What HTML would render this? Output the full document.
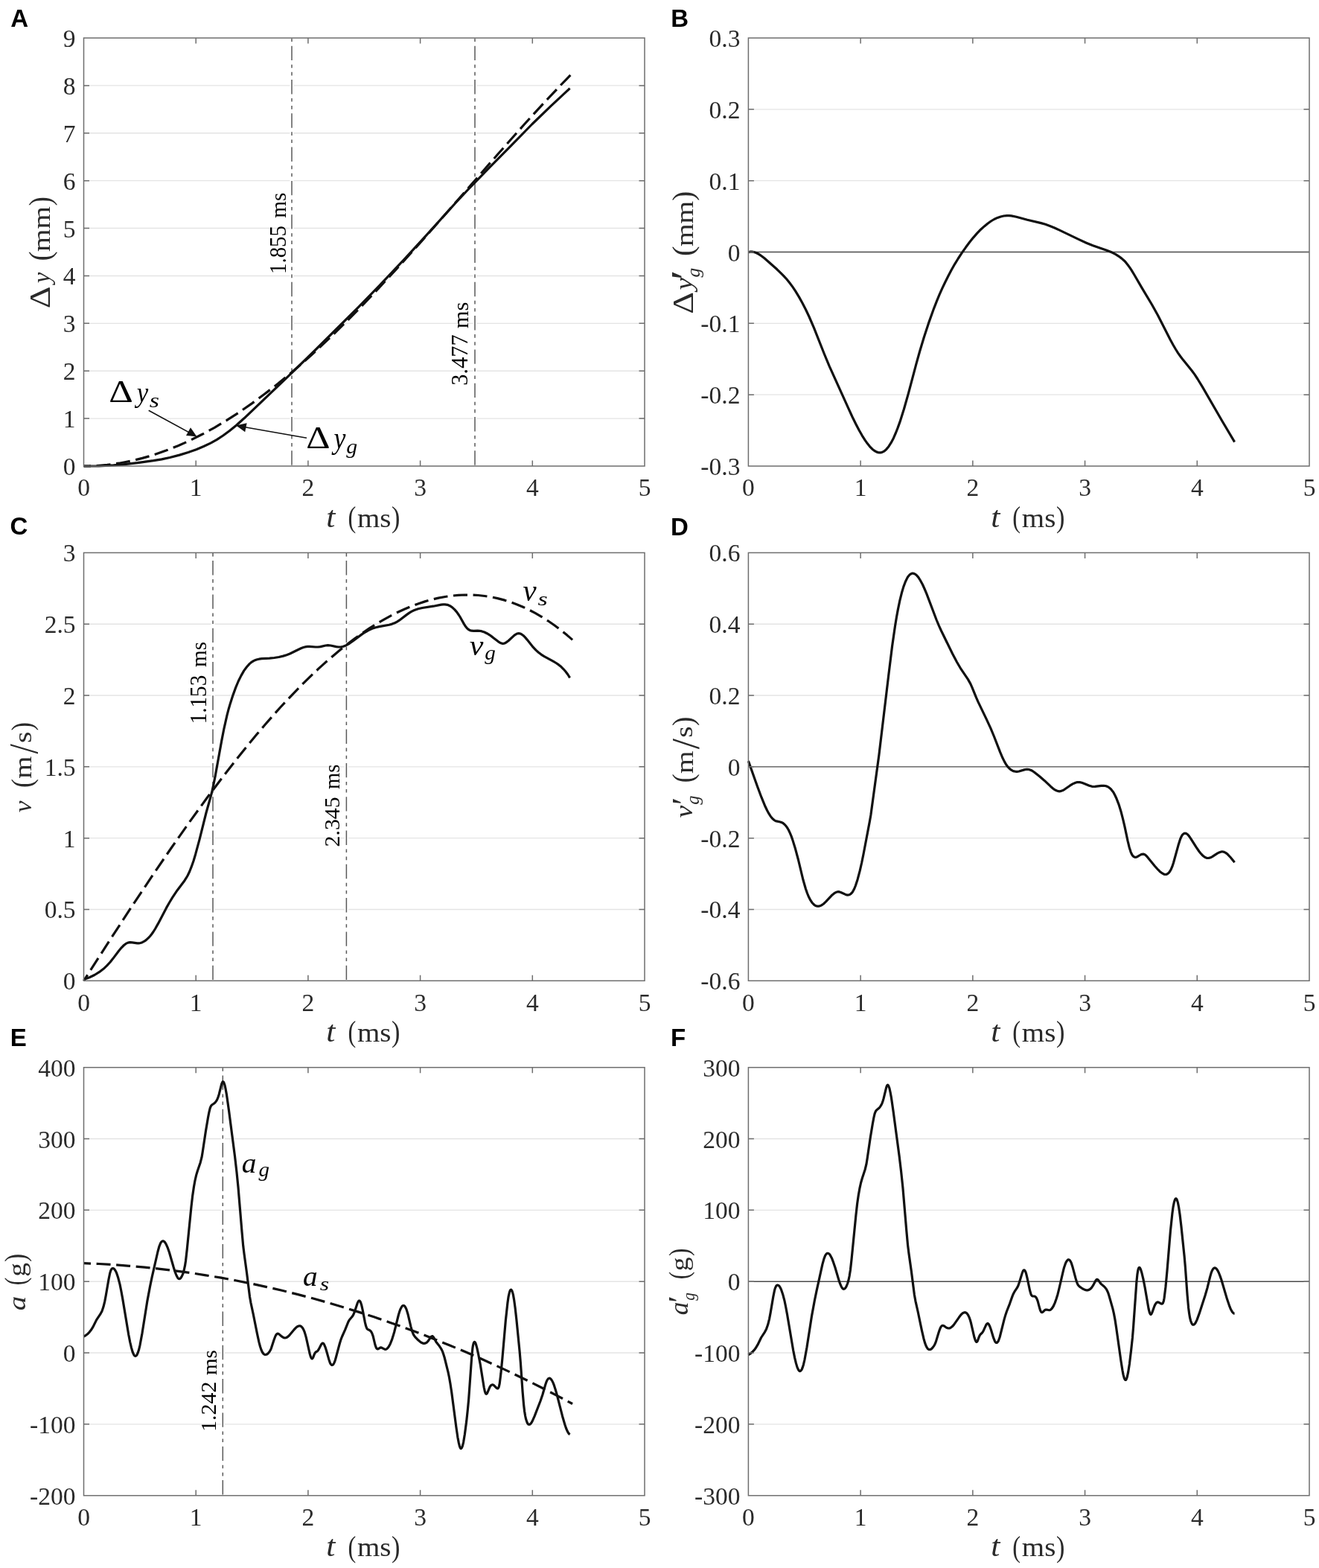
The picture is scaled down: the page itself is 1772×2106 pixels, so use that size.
<!DOCTYPE html>
<html><head><meta charset="utf-8"><title>Figure</title><style>html,body{margin:0;padding:0;background:#fff;}svg{display:block;}</style></head><body>
<svg xmlns="http://www.w3.org/2000/svg" width="1772" height="2106" viewBox="0 0 1772 2106">
<rect width="1772" height="2106" fill="#fff"/>
<line x1="112.50" y1="562.11" x2="866.00" y2="562.11" stroke="#e4e4e4" stroke-width="1.4"/>
<line x1="112.50" y1="498.22" x2="866.00" y2="498.22" stroke="#e4e4e4" stroke-width="1.4"/>
<line x1="112.50" y1="434.33" x2="866.00" y2="434.33" stroke="#e4e4e4" stroke-width="1.4"/>
<line x1="112.50" y1="370.44" x2="866.00" y2="370.44" stroke="#e4e4e4" stroke-width="1.4"/>
<line x1="112.50" y1="306.56" x2="866.00" y2="306.56" stroke="#e4e4e4" stroke-width="1.4"/>
<line x1="112.50" y1="242.67" x2="866.00" y2="242.67" stroke="#e4e4e4" stroke-width="1.4"/>
<line x1="112.50" y1="178.78" x2="866.00" y2="178.78" stroke="#e4e4e4" stroke-width="1.4"/>
<line x1="112.50" y1="114.89" x2="866.00" y2="114.89" stroke="#e4e4e4" stroke-width="1.4"/>
<line x1="1005.40" y1="530.17" x2="1759.00" y2="530.17" stroke="#e4e4e4" stroke-width="1.4"/>
<line x1="1005.40" y1="434.33" x2="1759.00" y2="434.33" stroke="#e4e4e4" stroke-width="1.4"/>
<line x1="1005.40" y1="242.67" x2="1759.00" y2="242.67" stroke="#e4e4e4" stroke-width="1.4"/>
<line x1="1005.40" y1="146.83" x2="1759.00" y2="146.83" stroke="#e4e4e4" stroke-width="1.4"/>
<line x1="1005.40" y1="338.50" x2="1759.00" y2="338.50" stroke="#4a4a4a" stroke-width="1.4"/>
<line x1="112.50" y1="1221.48" x2="866.00" y2="1221.48" stroke="#e4e4e4" stroke-width="1.4"/>
<line x1="112.50" y1="1125.67" x2="866.00" y2="1125.67" stroke="#e4e4e4" stroke-width="1.4"/>
<line x1="112.50" y1="1029.85" x2="866.00" y2="1029.85" stroke="#e4e4e4" stroke-width="1.4"/>
<line x1="112.50" y1="934.03" x2="866.00" y2="934.03" stroke="#e4e4e4" stroke-width="1.4"/>
<line x1="112.50" y1="838.22" x2="866.00" y2="838.22" stroke="#e4e4e4" stroke-width="1.4"/>
<line x1="1005.40" y1="1221.48" x2="1759.00" y2="1221.48" stroke="#e4e4e4" stroke-width="1.4"/>
<line x1="1005.40" y1="1125.67" x2="1759.00" y2="1125.67" stroke="#e4e4e4" stroke-width="1.4"/>
<line x1="1005.40" y1="934.03" x2="1759.00" y2="934.03" stroke="#e4e4e4" stroke-width="1.4"/>
<line x1="1005.40" y1="838.22" x2="1759.00" y2="838.22" stroke="#e4e4e4" stroke-width="1.4"/>
<line x1="1005.40" y1="1029.85" x2="1759.00" y2="1029.85" stroke="#4a4a4a" stroke-width="1.4"/>
<line x1="112.50" y1="1912.87" x2="866.00" y2="1912.87" stroke="#e4e4e4" stroke-width="1.4"/>
<line x1="112.50" y1="1817.03" x2="866.00" y2="1817.03" stroke="#e4e4e4" stroke-width="1.4"/>
<line x1="112.50" y1="1721.20" x2="866.00" y2="1721.20" stroke="#e4e4e4" stroke-width="1.4"/>
<line x1="112.50" y1="1625.37" x2="866.00" y2="1625.37" stroke="#e4e4e4" stroke-width="1.4"/>
<line x1="112.50" y1="1529.53" x2="866.00" y2="1529.53" stroke="#e4e4e4" stroke-width="1.4"/>
<line x1="1005.40" y1="1912.87" x2="1759.00" y2="1912.87" stroke="#e4e4e4" stroke-width="1.4"/>
<line x1="1005.40" y1="1817.03" x2="1759.00" y2="1817.03" stroke="#e4e4e4" stroke-width="1.4"/>
<line x1="1005.40" y1="1625.37" x2="1759.00" y2="1625.37" stroke="#e4e4e4" stroke-width="1.4"/>
<line x1="1005.40" y1="1529.53" x2="1759.00" y2="1529.53" stroke="#e4e4e4" stroke-width="1.4"/>
<line x1="1005.40" y1="1721.20" x2="1759.00" y2="1721.20" stroke="#4a4a4a" stroke-width="1.4"/>
<line x1="392.0" y1="51" x2="392.0" y2="626" stroke="#fff" stroke-width="5"/>
<line x1="392.0" y1="51" x2="392.0" y2="626" stroke="#5a5a5a" stroke-width="1.5" stroke-dasharray="19.4 5.6 4.6 5.5 4.6 5.6" stroke-dashoffset="34.6"/>
<line x1="638.0" y1="51" x2="638.0" y2="626" stroke="#fff" stroke-width="5"/>
<line x1="638.0" y1="51" x2="638.0" y2="626" stroke="#5a5a5a" stroke-width="1.5" stroke-dasharray="19.4 5.6 4.6 5.5 4.6 5.6" stroke-dashoffset="34.6"/>
<text transform="matrix(0 -0.28921 0.30919 0 383.56 368.04)" font-family="'Liberation Serif', 'DejaVu Serif', serif" font-size="100" fill="#000">1.855</text>
<text transform="matrix(0 -0.29193 0.29732 0 383.71 292.71)" font-family="'Liberation Serif', 'DejaVu Serif', serif" font-size="100" fill="#000">ms</text>
<text transform="matrix(0 -0.30414 0.30609 0 628.27 517.66)" font-family="'Liberation Serif', 'DejaVu Serif', serif" font-size="100" fill="#000">3.477</text>
<text transform="matrix(0 -0.30634 0.29109 0 628.72 441.34)" font-family="'Liberation Serif', 'DejaVu Serif', serif" font-size="100" fill="#000">ms</text>
<line x1="286.0" y1="742.4" x2="286.0" y2="1317.3" stroke="#fff" stroke-width="5"/>
<line x1="286.0" y1="742.4" x2="286.0" y2="1317.3" stroke="#5a5a5a" stroke-width="1.5" stroke-dasharray="19.4 5.6 4.6 5.5 4.6 5.6" stroke-dashoffset="34.6"/>
<line x1="465.4" y1="742.4" x2="465.4" y2="1317.3" stroke="#fff" stroke-width="5"/>
<line x1="465.4" y1="742.4" x2="465.4" y2="1317.3" stroke="#5a5a5a" stroke-width="1.5" stroke-dasharray="19.4 5.6 4.6 5.5 4.6 5.6" stroke-dashoffset="34.6"/>
<text transform="matrix(0 -0.29203 0.30609 0 277.27 972.37)" font-family="'Liberation Serif', 'DejaVu Serif', serif" font-size="100" fill="#000">1.153</text>
<text transform="matrix(0 -0.29193 0.29109 0 277.42 896.01)" font-family="'Liberation Serif', 'DejaVu Serif', serif" font-size="100" fill="#000">ms</text>
<text transform="matrix(0 -0.29903 0.29722 0 455.98 1137.51)" font-family="'Liberation Serif', 'DejaVu Serif', serif" font-size="100" fill="#000">2.345</text>
<text transform="matrix(0 -0.28562 0.28485 0 456.42 1060.00)" font-family="'Liberation Serif', 'DejaVu Serif', serif" font-size="100" fill="#000">ms</text>
<line x1="299.3" y1="1433.7" x2="299.3" y2="2008.7" stroke="#fff" stroke-width="5"/>
<line x1="299.3" y1="1433.7" x2="299.3" y2="2008.7" stroke="#5a5a5a" stroke-width="1.5" stroke-dasharray="19.4 5.6 4.6 5.5 4.6 5.6" stroke-dashoffset="34.6"/>
<text transform="matrix(0 -0.29901 0.29870 0 290.08 1922.93)" font-family="'Liberation Serif', 'DejaVu Serif', serif" font-size="100" fill="#000">1.242</text>
<text transform="matrix(0 -0.29013 0.27653 0 290.63 1847.11)" font-family="'Liberation Serif', 'DejaVu Serif', serif" font-size="100" fill="#000">ms</text>
<path d="M112.5,626.0L120.2,625.9 128.2,625.6 136.0,625.0 144.0,624.3 151.7,623.3 159.7,622.2 167.5,620.8 175.5,619.2 183.2,617.4 191.2,615.4 199.2,613.1 207.2,610.7 223.2,605.1 239.2,598.7 255.5,591.5 271.7,583.3 288.2,574.3 304.7,564.4 321.5,553.6 338.4,541.9 355.7,529.1 373.2,515.5 388.2,503.1 403.2,490.3 418.7,476.5 434.4,461.9 450.4,446.6 466.9,430.4 483.9,413.1 501.4,394.9 531.4,362.7 564.4,326.1 595.9,290.5 668.9,207.0 704.6,166.8 722.1,147.6 738.6,129.8 754.1,113.5 769.1,98.1" fill="none" stroke="#111" stroke-width="3.2" stroke-dasharray="19 7.6" stroke-dashoffset="9.5" stroke-linecap="butt"/>
<path d="M112.5,626.0L133.0,625.8 142.0,625.5 152.5,624.9 165.0,623.8 184.7,621.6 206.2,618.7 217.2,616.9 228.2,614.5 241.2,611.1 253.0,607.5 263.7,603.7 273.7,599.5 283.0,595.1 291.5,590.3 299.7,585.0 308.2,578.8 317.5,571.2 328.0,561.8 393.5,499.4 424.2,469.5 481.7,412.4 494.4,399.4 510.2,383.1 544.7,346.6 570.4,318.6 613.2,271.3 629.9,253.5 657.9,224.6 686.1,196.1 715.1,166.5 740.1,142.3 765.6,118.6" fill="none" stroke="#111" stroke-width="3.2" stroke-linejoin="round" stroke-linecap="butt"/>
<path d="M1005.4,338.8L1007.6,338.2 1010.1,338.1 1012.6,338.5 1015.1,339.2 1017.9,340.5 1020.6,342.1 1023.6,344.2 1026.9,346.8 1043.9,361.8 1048.6,366.3 1052.6,370.3 1056.9,375.0 1060.9,380.0 1064.9,385.4 1068.9,391.4 1073.6,399.1 1078.1,407.2 1082.6,416.0 1087.1,425.5 1093.6,440.7 1107.4,475.5 1114.1,491.6 1139.9,548.7 1145.1,560.0 1149.9,569.7 1154.1,577.8 1158.1,584.8 1161.9,590.8 1165.4,595.8 1168.6,599.8 1171.9,603.2 1174.9,605.5 1177.9,607.1 1179.6,607.6 1181.1,607.9 1182.9,607.9 1184.4,607.6 1186.1,606.9 1187.6,606.1 1189.1,605.0 1190.6,603.6 1193.9,599.7 1197.1,594.7 1200.4,588.4 1203.6,581.0 1206.1,574.6 1208.9,566.9 1214.4,549.5 1220.4,528.4 1231.1,488.1 1235.6,472.0 1241.4,452.7 1247.4,434.4 1254.6,414.3 1258.4,404.7 1262.1,395.7 1265.9,387.2 1269.9,378.7 1273.9,370.7 1278.1,362.7 1282.6,354.8 1287.4,347.0 1292.4,339.4 1297.4,332.3 1302.6,325.3 1307.6,319.1 1312.6,313.4 1317.6,308.2 1322.4,303.9 1326.9,300.2 1331.4,297.0 1335.6,294.5 1340.1,292.4 1344.4,291.0 1348.6,290.0 1352.9,289.6 1355.6,289.7 1358.6,289.9 1365.4,291.2 1380.1,295.2 1398.6,299.6 1404.4,301.3 1410.4,303.5 1416.6,306.0 1423.4,309.1 1448.9,321.4 1459.4,326.2 1468.1,329.7 1486.1,335.9 1493.9,339.1 1498.9,341.7 1503.1,344.3 1506.9,347.1 1510.4,350.2 1512.9,352.9 1515.1,355.7 1517.6,359.1 1520.1,362.9 1524.1,369.5 1533.9,386.4 1547.6,409.2 1555.4,423.3 1572.1,456.1 1575.9,463.0 1579.4,469.0 1582.6,474.1 1585.9,478.7 1589.6,483.6 1601.1,497.7 1604.9,502.9 1608.9,509.0 1615.4,519.7 1641.6,565.0 1658.6,593.6" fill="none" stroke="#111" stroke-width="3.2" stroke-linejoin="round" stroke-linecap="butt"/>
<path d="M112.5,1317.3L146.7,1264.0 176.5,1218.4 204.0,1177.2 229.7,1139.5 254.5,1104.2 278.2,1071.5 301.0,1041.3 323.2,1012.9 334.2,999.4 345.2,986.1 355.9,973.5 366.4,961.5 376.9,949.8 387.4,938.5 397.7,927.8 407.9,917.4 417.9,907.6 427.9,898.2 437.9,889.1 447.7,880.7 457.4,872.6 467.2,864.8 476.7,857.6 486.2,850.8 495.9,844.2 505.4,838.2 514.9,832.6 524.4,827.3 533.9,822.5 543.2,818.2 552.4,814.4 561.6,810.9 570.9,807.9 579.9,805.3 589.1,803.1 598.1,801.5 607.1,800.2 615.9,799.4 624.9,799.0 633.6,799.1 642.4,799.5 651.1,800.5 659.9,801.8 668.4,803.6 677.1,805.9 685.6,808.6 694.1,811.7 702.6,815.2 711.1,819.3 719.4,823.6 727.9,828.5 736.1,833.8 744.4,839.5 752.6,845.7 760.9,852.3 769.1,859.4" fill="none" stroke="#111" stroke-width="3.2" stroke-dasharray="19 7.6" stroke-dashoffset="9.5" stroke-linecap="butt"/>
<path d="M112.5,1315.6L120.2,1312.7 127.0,1309.5 133.2,1305.7 139.0,1301.3 143.7,1296.9 148.2,1292.0 151.7,1287.6 159.7,1277.0 163.2,1272.8 166.5,1269.5 169.2,1267.4 172.0,1266.1 174.7,1265.6 177.5,1265.8 184.5,1266.9 186.7,1266.8 188.7,1266.5 191.2,1265.7 194.0,1264.2 196.5,1262.4 199.2,1259.9 201.5,1257.5 203.7,1254.7 206.0,1251.5 208.5,1247.5 212.5,1240.4 223.5,1219.4 227.7,1212.0 231.7,1205.4 238.2,1195.7 248.0,1182.7 250.2,1179.2 252.2,1175.7 254.7,1170.5 257.2,1164.2 260.0,1156.2 262.7,1147.2 268.0,1127.7 277.0,1091.5 282.5,1072.0 284.5,1064.5 286.7,1054.6 289.2,1042.1 297.7,995.1 301.0,978.3 305.0,960.7 307.2,952.2 309.5,944.4 313.0,933.6 316.7,923.4 320.2,915.0 324.0,907.4 327.7,900.9 331.5,895.7 335.2,891.6 337.2,889.9 339.2,888.5 341.2,887.4 343.2,886.5 345.5,885.8 348.0,885.2 351.7,884.7 362.0,884.1 368.5,883.5 374.7,882.5 380.5,881.1 385.0,879.7 389.5,878.0 401.2,872.2 404.9,870.5 408.4,869.3 411.4,868.6 413.4,868.4 415.7,868.3 423.9,869.0 427.4,869.0 430.4,868.6 437.4,867.0 440.4,866.7 444.2,867.0 451.7,868.6 454.7,869.0 457.9,869.0 461.2,868.3 465.2,866.7 469.4,864.3 473.7,861.3 486.2,851.9 490.7,849.0 494.9,846.6 499.9,844.3 504.7,842.7 509.4,841.6 522.7,839.2 526.7,838.1 530.2,836.7 533.4,835.1 536.4,833.2 546.7,825.4 549.9,823.1 553.2,821.1 556.7,819.5 561.7,817.8 567.2,816.5 582.2,814.2 592.7,812.1 595.4,811.8 597.7,811.8 601.2,812.3 604.4,813.7 607.7,815.8 610.9,818.9 613.7,822.1 616.4,826.0 618.7,829.7 623.4,838.1 625.4,841.3 627.4,843.8 629.4,845.5 631.4,846.6 633.7,847.2 636.2,847.4 641.7,847.2 644.2,847.3 647.4,847.9 650.7,849.0 654.2,850.7 657.7,852.8 661.9,855.9 669.2,861.6 671.2,862.9 672.9,863.8 674.6,864.3 676.1,864.4 677.9,864.0 679.6,863.1 682.9,860.7 690.6,853.6 692.4,852.3 694.1,851.3 695.9,850.8 697.4,850.7 698.9,851.0 700.6,851.9 702.9,853.5 705.4,855.9 708.1,859.1 716.4,869.4 719.9,873.1 723.4,876.2 727.1,879.1 731.1,881.7 743.1,888.1 747.1,890.5 750.6,892.9 753.9,895.6 757.1,898.8 760.1,902.2 762.9,906.0 765.6,910.3" fill="none" stroke="#111" stroke-width="3.2" stroke-linejoin="round" stroke-linecap="butt"/>
<path d="M1005.4,1022.1L1017.4,1056.0 1022.9,1070.7 1028.1,1083.3 1030.6,1088.5 1032.9,1092.7 1034.9,1095.8 1036.6,1098.2 1038.4,1100.1 1040.1,1101.5 1041.6,1102.4 1043.1,1102.9 1048.1,1104.0 1050.1,1104.6 1051.9,1105.5 1053.6,1106.9 1055.6,1109.0 1057.4,1111.4 1059.4,1114.8 1061.1,1118.4 1062.9,1122.6 1064.6,1127.4 1068.6,1140.3 1072.4,1154.5 1079.1,1182.3 1082.4,1193.7 1084.4,1199.5 1086.6,1204.8 1088.9,1209.2 1091.1,1212.5 1093.4,1214.9 1094.6,1215.8 1095.9,1216.5 1097.1,1217.0 1098.4,1217.2 1099.6,1217.2 1100.9,1217.0 1102.1,1216.6 1103.6,1215.9 1106.4,1214.0 1109.4,1211.2 1118.1,1201.9 1120.9,1199.7 1123.4,1198.3 1125.6,1197.7 1127.9,1197.9 1130.1,1198.7 1135.9,1201.4 1137.4,1201.9 1138.6,1202.1 1140.1,1202.0 1141.6,1201.5 1142.9,1200.7 1144.1,1199.5 1145.4,1197.9 1146.6,1195.8 1147.9,1193.2 1149.4,1189.5 1152.1,1181.2 1155.1,1169.9 1157.6,1159.0 1160.1,1146.8 1168.4,1103.1 1169.9,1094.5 1180.9,1014.0 1193.9,905.6 1198.6,867.7 1202.4,841.4 1204.4,829.3 1206.4,818.4 1208.9,806.4 1211.4,796.3 1213.9,787.9 1216.4,781.2 1218.9,776.1 1220.1,774.2 1221.6,772.4 1222.9,771.3 1224.4,770.5 1225.6,770.1 1227.1,770.2 1228.4,770.6 1229.9,771.4 1231.4,772.7 1232.9,774.3 1234.4,776.3 1236.1,779.0 1239.4,785.0 1242.1,791.0 1244.9,797.6 1258.1,832.5 1261.4,840.4 1264.4,847.0 1279.6,878.0 1285.4,889.0 1291.1,898.7 1300.4,912.4 1303.9,918.6 1306.1,923.6 1311.4,936.7 1313.9,942.4 1325.1,965.6 1331.1,978.7 1335.6,989.5 1343.6,1010.1 1347.1,1018.3 1349.4,1022.9 1351.6,1026.8 1353.9,1029.9 1356.4,1032.5 1358.4,1034.1 1360.4,1035.2 1362.4,1035.9 1364.6,1036.3 1366.6,1036.3 1368.9,1036.0 1376.1,1033.9 1379.1,1033.3 1380.6,1033.3 1382.1,1033.5 1385.1,1034.5 1387.4,1035.7 1389.6,1037.2 1396.9,1043.0 1402.9,1048.2 1411.4,1056.2 1414.9,1059.2 1416.9,1060.6 1418.6,1061.6 1420.4,1062.3 1421.9,1062.7 1423.4,1062.8 1424.6,1062.7 1427.4,1061.8 1430.1,1060.3 1437.4,1055.2 1441.1,1052.9 1444.9,1051.2 1446.6,1050.7 1448.1,1050.5 1450.6,1050.6 1453.4,1051.2 1456.1,1052.2 1463.4,1055.2 1467.1,1056.3 1469.1,1056.5 1471.1,1056.4 1479.4,1055.4 1482.9,1055.3 1484.6,1055.5 1486.4,1055.9 1488.1,1056.6 1489.6,1057.5 1491.4,1058.9 1493.1,1060.7 1494.9,1062.9 1496.4,1065.2 1498.1,1068.5 1499.6,1071.7 1502.9,1080.1 1505.9,1089.7 1508.6,1100.1 1510.9,1109.8 1515.1,1129.6 1517.1,1137.9 1519.1,1144.3 1520.1,1146.6 1521.1,1148.4 1522.1,1149.7 1523.1,1150.6 1524.1,1151.1 1525.4,1151.3 1526.6,1151.1 1527.9,1150.7 1532.4,1148.0 1534.1,1147.3 1535.9,1147.1 1536.9,1147.4 1537.9,1147.8 1539.6,1149.1 1541.6,1151.2 1551.4,1163.2 1555.9,1168.2 1558.1,1170.4 1560.1,1172.0 1561.9,1173.2 1563.4,1174.0 1564.6,1174.4 1565.9,1174.5 1567.1,1174.3 1568.4,1173.7 1569.6,1172.8 1570.6,1171.8 1571.9,1170.0 1572.9,1168.3 1574.9,1163.7 1576.6,1158.5 1582.9,1135.6 1585.6,1127.0 1587.1,1123.6 1588.6,1121.2 1590.1,1119.8 1591.6,1119.2 1592.9,1119.3 1594.1,1119.8 1595.4,1120.7 1596.9,1122.3 1599.6,1126.1 1606.9,1137.7 1610.9,1143.5 1612.9,1146.0 1614.9,1148.2 1616.9,1150.0 1618.6,1151.3 1620.4,1152.1 1621.9,1152.5 1623.4,1152.5 1625.1,1152.2 1626.9,1151.6 1628.6,1150.7 1635.1,1146.4 1637.9,1144.9 1640.6,1144.0 1641.9,1143.9 1643.1,1144.0 1644.6,1144.4 1646.1,1145.1 1647.6,1146.1 1649.4,1147.6 1653.1,1151.5 1658.6,1158.2" fill="none" stroke="#111" stroke-width="3.2" stroke-linejoin="round" stroke-linecap="butt"/>
<path d="M112.5,1696.7L133.0,1697.5 153.5,1698.7 174.0,1700.3 194.5,1702.1 215.0,1704.3 235.5,1706.8 256.0,1709.6 276.5,1712.8 297.0,1716.2 317.5,1720.0 337.9,1724.1 358.4,1728.6 378.9,1733.3 399.4,1738.4 419.9,1743.8 440.7,1749.6 461.2,1755.7 481.7,1762.1 502.4,1768.8 522.9,1775.9 543.4,1783.2 563.9,1790.9 584.4,1798.9 604.9,1807.2 625.4,1815.8 645.9,1824.8 666.4,1834.1 687.1,1843.8 707.6,1853.8 728.1,1864.0 748.6,1874.6 769.1,1885.5" fill="none" stroke="#111" stroke-width="3.2" stroke-dasharray="19 7.6" stroke-dashoffset="9.5" stroke-linecap="butt"/>
<path d="M112.5,1795.1L115.5,1793.3 118.0,1791.4 120.2,1789.1 122.2,1786.6 125.0,1782.1 129.7,1772.6 134.7,1765.2 137.0,1760.9 139.0,1755.1 140.7,1748.1 142.2,1740.2 146.0,1718.2 147.7,1710.0 148.7,1706.8 149.7,1704.8 150.2,1704.1 151.0,1703.6 151.5,1703.5 152.2,1703.6 153.2,1704.2 154.2,1705.3 155.2,1706.9 156.5,1709.5 158.7,1716.1 161.0,1724.9 162.7,1733.2 164.7,1744.1 172.7,1792.2 174.7,1802.5 176.5,1810.1 178.2,1816.0 179.7,1819.4 180.5,1820.5 181.2,1821.1 182.0,1821.4 182.7,1821.1 183.5,1820.4 184.0,1819.7 185.2,1817.0 186.5,1813.1 188.0,1806.8 191.0,1790.6 197.7,1748.4 201.5,1728.1 204.2,1715.2 212.0,1681.0 214.0,1673.8 215.7,1669.6 216.5,1668.4 217.5,1667.4 218.5,1666.9 219.5,1666.9 220.5,1667.5 221.5,1668.5 222.5,1669.9 223.5,1671.8 225.5,1676.4 227.5,1682.2 233.2,1702.0 235.2,1708.4 237.0,1713.0 238.5,1715.8 239.2,1716.8 240.0,1717.4 240.5,1717.6 241.2,1717.6 242.0,1717.3 242.7,1716.6 244.2,1714.3 246.0,1710.3 247.2,1706.0 248.5,1699.9 249.5,1693.5 251.2,1678.5 257.0,1620.6 258.7,1605.9 260.5,1593.7 262.0,1585.5 263.7,1578.1 265.5,1572.2 269.2,1561.4 271.0,1554.4 272.2,1547.2 276.5,1518.7 279.5,1501.1 281.0,1493.3 282.2,1488.4 283.0,1486.4 283.7,1485.1 284.7,1484.0 287.7,1482.0 289.2,1480.6 290.7,1478.6 292.0,1476.3 293.2,1473.1 294.2,1469.9 297.7,1455.9 298.7,1453.5 299.2,1452.9 299.7,1452.8 300.2,1453.1 300.7,1453.9 302.0,1457.5 303.2,1463.2 304.5,1470.4 307.5,1491.5 315.5,1552.9 318.0,1574.6 320.0,1594.5 325.0,1654.4 326.7,1673.3 328.0,1683.9 331.5,1709.4 335.5,1741.4 337.0,1750.0 340.2,1764.9 345.5,1791.4 348.0,1802.8 349.5,1808.5 351.0,1813.0 352.5,1816.2 354.0,1818.3 354.7,1818.9 355.7,1819.4 356.7,1819.5 357.7,1819.3 359.0,1818.7 360.2,1817.7 362.2,1815.3 363.5,1813.0 364.5,1810.6 368.0,1799.8 369.5,1795.7 370.7,1793.1 372.0,1791.6 372.5,1791.3 373.2,1791.2 374.5,1791.6 378.7,1795.2 381.0,1796.6 382.7,1797.0 384.2,1796.7 386.2,1795.7 388.5,1793.7 395.4,1785.5 398.2,1782.7 399.4,1781.8 400.7,1781.2 401.9,1780.8 402.9,1780.8 403.9,1781.1 404.7,1781.6 406.2,1783.1 407.7,1785.6 409.2,1789.2 410.4,1793.1 411.4,1796.9 416.2,1818.4 417.4,1822.4 418.4,1824.4 419.2,1824.9 419.9,1824.4 420.7,1823.1 422.4,1818.7 423.4,1816.9 424.2,1816.0 426.2,1814.9 427.2,1813.9 428.4,1811.9 431.7,1805.6 432.9,1804.2 433.4,1804.0 433.9,1804.0 434.7,1804.6 435.4,1805.6 436.9,1809.1 438.4,1813.8 441.7,1825.4 443.4,1830.4 444.2,1831.9 445.2,1833.1 445.9,1833.5 446.9,1833.3 447.7,1832.6 448.4,1831.5 449.2,1829.9 450.2,1827.2 451.4,1823.0 456.2,1805.0 457.9,1799.4 459.4,1795.5 463.7,1785.9 467.9,1775.4 469.4,1772.7 473.2,1768.3 474.7,1765.9 476.4,1761.8 480.4,1749.8 481.7,1747.5 482.2,1747.1 482.7,1747.0 483.4,1747.4 484.2,1748.5 484.9,1750.4 485.7,1752.8 487.2,1759.5 490.4,1776.1 491.4,1780.3 492.2,1782.7 492.9,1784.4 493.7,1785.3 494.4,1785.8 496.4,1786.6 497.4,1787.3 498.7,1788.7 499.7,1790.5 501.2,1794.6 503.9,1806.0 504.7,1808.4 505.4,1810.2 506.2,1811.3 507.2,1811.9 508.2,1811.7 510.7,1810.1 511.7,1809.9 513.2,1810.3 516.7,1812.2 517.7,1812.3 518.7,1812.2 519.4,1811.8 520.4,1811.0 521.4,1809.9 522.4,1808.5 524.4,1804.7 526.4,1799.7 527.9,1795.1 529.7,1789.0 535.4,1766.0 536.7,1761.8 537.9,1758.4 539.2,1755.9 540.4,1754.2 541.7,1753.5 542.7,1753.6 543.7,1754.3 544.4,1755.3 545.4,1757.2 546.2,1759.1 548.2,1765.8 551.9,1781.6 553.4,1787.2 555.2,1791.9 556.2,1793.7 557.4,1795.4 561.7,1799.8 564.7,1802.4 566.2,1803.3 567.4,1803.9 568.7,1804.3 569.9,1804.4 571.9,1803.9 573.7,1802.8 575.4,1800.9 578.2,1796.7 579.2,1795.4 580.2,1794.7 580.7,1794.6 581.2,1794.8 581.9,1795.4 582.7,1796.5 585.2,1801.1 586.4,1803.1 590.4,1808.1 591.9,1810.3 593.4,1812.9 594.7,1815.7 595.9,1819.2 597.2,1823.5 601.9,1842.4 603.4,1849.5 604.9,1858.1 606.7,1869.7 612.9,1916.9 614.9,1930.5 616.2,1937.4 617.4,1942.4 618.4,1944.8 618.9,1945.4 619.4,1945.6 620.2,1944.9 620.9,1943.4 621.7,1941.0 622.7,1936.6 624.4,1926.2 626.7,1908.8 628.4,1892.8 629.7,1878.8 633.9,1820.0 634.9,1810.6 635.4,1807.4 636.2,1804.2 636.7,1803.0 637.2,1802.4 637.7,1802.4 638.2,1802.8 638.7,1803.6 639.4,1805.5 640.9,1810.9 642.9,1820.2 645.2,1832.2 650.2,1863.5 651.4,1869.0 652.4,1871.6 653.2,1872.3 653.7,1872.2 654.2,1871.7 654.9,1870.3 657.9,1863.2 659.2,1861.2 659.9,1860.5 660.7,1860.0 661.7,1859.8 662.9,1860.2 664.2,1861.3 666.7,1863.9 667.9,1864.8 668.7,1865.0 669.4,1864.4 669.9,1863.4 670.4,1861.9 671.2,1858.4 672.9,1844.8 674.9,1824.4 679.4,1772.7 681.9,1750.0 683.1,1741.6 684.4,1735.8 685.4,1733.1 685.9,1732.5 686.6,1732.2 687.1,1732.5 687.9,1733.8 688.6,1735.9 689.4,1738.9 690.6,1745.6 692.1,1756.6 693.9,1772.6 698.1,1815.1 699.4,1830.6 702.1,1869.4 703.6,1886.8 704.6,1895.2 705.6,1901.5 706.6,1906.1 707.9,1910.0 708.6,1911.5 709.4,1912.6 710.1,1913.1 711.1,1913.3 712.1,1912.9 713.1,1912.0 714.1,1910.6 715.1,1908.9 718.1,1902.2 726.1,1881.5 728.9,1873.3 732.6,1860.3 734.1,1855.8 735.1,1853.6 736.4,1851.9 737.4,1851.2 737.9,1851.1 738.6,1851.1 739.9,1852.0 741.4,1853.9 742.9,1856.9 744.4,1860.7 746.1,1866.0 748.1,1872.9 755.6,1902.2 758.9,1913.5 760.6,1918.5 762.4,1922.6 764.1,1925.3 764.9,1926.1 765.6,1926.6" fill="none" stroke="#111" stroke-width="3.2" stroke-linejoin="round" stroke-linecap="butt"/>
<path d="M1005.4,1819.7L1008.4,1817.8 1010.9,1815.7 1013.1,1813.4 1015.1,1810.8 1017.9,1806.2 1022.6,1796.5 1027.6,1788.8 1029.6,1784.9 1031.6,1779.3 1033.6,1771.3 1035.1,1763.4 1038.9,1741.1 1040.6,1732.8 1041.6,1729.6 1042.6,1727.5 1043.1,1726.8 1043.9,1726.2 1044.4,1726.0 1045.1,1726.1 1046.1,1726.6 1047.1,1727.7 1048.1,1729.2 1049.4,1731.8 1051.6,1738.2 1053.9,1746.8 1055.6,1755.0 1057.6,1765.8 1065.6,1813.2 1067.6,1823.4 1069.4,1830.9 1071.1,1836.6 1072.6,1839.8 1073.4,1840.9 1074.1,1841.4 1074.9,1841.6 1075.6,1841.3 1076.9,1839.8 1078.1,1837.0 1079.4,1832.9 1080.9,1826.5 1083.9,1810.0 1090.6,1767.1 1094.4,1746.5 1096.9,1734.4 1104.9,1698.2 1106.9,1690.8 1108.6,1686.4 1110.1,1684.2 1110.9,1683.6 1111.9,1683.3 1112.6,1683.4 1113.6,1683.9 1114.4,1684.6 1115.4,1685.9 1117.4,1689.7 1119.6,1695.4 1121.9,1702.3 1127.1,1719.9 1128.6,1724.2 1130.1,1727.7 1131.1,1729.4 1131.9,1730.4 1132.6,1731.1 1133.4,1731.3 1134.1,1731.2 1135.1,1730.6 1135.9,1729.7 1136.9,1728.1 1138.6,1724.0 1139.9,1719.8 1141.1,1714.0 1142.4,1706.0 1144.1,1690.7 1149.9,1632.1 1151.6,1617.0 1153.4,1604.6 1154.9,1596.2 1156.6,1588.5 1158.4,1582.3 1162.1,1571.0 1163.9,1563.7 1165.1,1556.3 1169.4,1527.1 1172.4,1509.0 1173.9,1501.0 1175.1,1495.9 1175.9,1493.8 1176.6,1492.3 1177.6,1491.0 1180.6,1488.6 1182.1,1487.0 1183.6,1484.7 1184.9,1482.1 1186.1,1478.8 1187.1,1475.4 1190.6,1460.8 1191.6,1458.1 1192.1,1457.4 1192.6,1457.2 1193.1,1457.5 1193.6,1458.2 1194.9,1461.6 1196.1,1467.0 1197.4,1474.1 1200.1,1492.8 1208.1,1552.5 1210.6,1573.4 1212.9,1595.2 1217.9,1654.1 1219.6,1672.6 1220.9,1683.0 1224.4,1707.8 1228.4,1739.0 1229.9,1747.3 1233.1,1761.5 1238.4,1786.9 1240.9,1797.7 1242.4,1803.1 1243.9,1807.3 1245.4,1810.2 1246.1,1811.2 1247.1,1812.1 1247.9,1812.5 1248.9,1812.6 1249.9,1812.5 1250.9,1812.0 1251.9,1811.2 1253.1,1809.9 1255.1,1807.1 1256.4,1804.5 1257.4,1801.9 1260.9,1790.3 1262.4,1785.8 1263.6,1782.9 1264.9,1781.1 1265.4,1780.7 1266.1,1780.4 1267.4,1780.5 1268.4,1781.0 1271.6,1783.2 1273.9,1784.0 1275.6,1783.9 1277.1,1783.3 1279.1,1781.8 1281.4,1779.3 1288.4,1769.3 1291.1,1765.8 1292.4,1764.6 1293.6,1763.6 1294.9,1763.0 1295.9,1762.7 1296.9,1762.8 1297.6,1763.0 1299.1,1764.1 1300.6,1766.2 1302.1,1769.4 1303.4,1773.0 1304.4,1776.6 1309.1,1796.8 1310.4,1800.5 1311.4,1802.2 1312.1,1802.4 1312.9,1801.8 1313.6,1800.3 1315.4,1795.4 1316.4,1793.3 1317.1,1792.3 1319.1,1790.5 1320.1,1789.3 1321.4,1786.9 1324.6,1779.8 1325.9,1778.0 1326.4,1777.7 1326.9,1777.5 1327.6,1777.9 1328.4,1778.7 1329.9,1781.7 1331.4,1786.0 1334.6,1796.7 1336.4,1801.2 1337.1,1802.4 1338.1,1803.4 1338.9,1803.5 1339.9,1803.0 1340.6,1802.1 1341.4,1800.8 1343.1,1796.0 1349.1,1772.1 1350.9,1765.9 1352.4,1761.5 1356.4,1751.3 1359.9,1741.4 1361.4,1737.7 1362.9,1734.9 1366.4,1729.7 1367.9,1726.7 1369.6,1721.8 1373.4,1709.4 1374.6,1706.7 1375.1,1706.1 1375.6,1705.8 1376.4,1706.0 1377.1,1706.9 1377.9,1708.5 1378.6,1710.7 1380.1,1716.9 1383.4,1732.5 1384.4,1736.3 1385.1,1738.5 1385.9,1739.9 1386.6,1740.6 1387.4,1740.9 1389.4,1741.0 1390.4,1741.3 1391.6,1742.3 1392.6,1743.7 1394.1,1747.4 1396.9,1757.8 1397.6,1760.0 1398.4,1761.5 1399.1,1762.4 1399.6,1762.6 1400.1,1762.6 1401.1,1762.1 1403.6,1759.7 1404.6,1759.1 1406.1,1759.0 1409.6,1759.7 1410.6,1759.5 1411.4,1759.1 1413.1,1757.5 1415.1,1754.5 1417.1,1750.1 1419.1,1744.5 1420.9,1738.7 1422.6,1731.9 1428.4,1706.9 1429.6,1702.2 1430.9,1698.4 1432.1,1695.4 1433.4,1693.3 1434.6,1692.1 1435.4,1691.8 1435.9,1691.9 1436.9,1692.4 1437.6,1693.2 1438.6,1694.9 1439.4,1696.7 1441.1,1702.1 1444.9,1716.4 1446.4,1721.5 1447.1,1723.5 1448.1,1725.5 1449.1,1726.9 1450.4,1728.2 1454.6,1731.0 1457.6,1732.4 1459.1,1732.8 1460.4,1732.9 1461.6,1732.8 1462.9,1732.4 1464.9,1731.1 1466.6,1729.3 1468.4,1726.7 1472.1,1719.8 1473.1,1718.7 1473.6,1718.4 1474.1,1718.4 1474.9,1718.7 1475.6,1719.5 1478.1,1723.1 1479.4,1724.6 1483.4,1728.0 1484.9,1729.6 1486.4,1731.6 1487.6,1733.9 1488.9,1736.9 1490.1,1740.7 1494.9,1757.6 1496.4,1764.1 1497.9,1772.1 1499.6,1783.0 1505.9,1827.6 1507.9,1840.3 1509.1,1846.6 1510.4,1851.2 1511.4,1853.1 1511.9,1853.5 1512.4,1853.5 1513.1,1852.5 1513.9,1850.7 1514.6,1848.0 1515.6,1843.2 1517.4,1831.9 1519.6,1813.6 1521.4,1796.9 1522.6,1782.3 1526.9,1721.7 1527.9,1711.8 1528.4,1708.4 1529.1,1704.9 1529.6,1703.4 1530.1,1702.7 1530.6,1702.4 1531.1,1702.6 1531.6,1703.2 1532.4,1704.7 1533.9,1709.5 1535.9,1717.9 1538.1,1729.0 1543.1,1758.0 1544.4,1763.0 1545.4,1765.1 1545.9,1765.5 1546.1,1765.5 1546.6,1765.1 1547.1,1764.3 1547.9,1762.6 1550.9,1754.2 1552.1,1751.7 1553.6,1749.7 1554.6,1749.1 1555.9,1748.9 1557.1,1749.4 1559.6,1750.9 1560.9,1751.2 1561.6,1751.0 1562.4,1750.1 1563.4,1747.2 1564.1,1743.3 1565.9,1728.9 1567.9,1707.5 1572.4,1653.7 1574.9,1629.8 1576.1,1620.9 1577.4,1614.5 1578.4,1611.4 1578.9,1610.4 1579.6,1609.8 1580.1,1609.9 1580.9,1610.8 1581.6,1612.6 1582.4,1615.2 1583.6,1621.3 1585.1,1631.5 1586.9,1646.7 1591.1,1687.2 1592.4,1702.1 1595.1,1739.5 1596.6,1756.2 1597.6,1764.1 1598.6,1769.9 1599.6,1774.0 1600.9,1777.3 1601.6,1778.5 1602.4,1779.1 1603.1,1779.3 1604.1,1779.0 1605.1,1778.1 1606.1,1776.7 1608.1,1772.6 1611.1,1764.4 1619.1,1739.7 1621.9,1730.1 1625.6,1715.1 1627.1,1709.9 1628.1,1707.2 1629.4,1704.8 1630.4,1703.6 1631.6,1702.9 1632.9,1703.1 1633.6,1703.6 1634.4,1704.3 1635.9,1706.5 1637.4,1709.5 1639.1,1713.9 1640.9,1719.0 1648.6,1745.1 1651.9,1754.7 1653.6,1758.8 1655.4,1761.9 1656.4,1763.1 1657.1,1763.7 1657.9,1764.1 1658.6,1764.1" fill="none" stroke="#111" stroke-width="3.2" stroke-linejoin="round" stroke-linecap="butt"/>
<rect x="112.50" y="51.00" width="753.50" height="575.00" fill="none" stroke="#6e6e6e" stroke-width="1.5"/>
<path d="M112.50 562.11h7.5M866.00 562.11h-7.5M112.50 498.22h7.5M866.00 498.22h-7.5M112.50 434.33h7.5M866.00 434.33h-7.5M112.50 370.44h7.5M866.00 370.44h-7.5M112.50 306.56h7.5M866.00 306.56h-7.5M112.50 242.67h7.5M866.00 242.67h-7.5M112.50 178.78h7.5M866.00 178.78h-7.5M112.50 114.89h7.5M866.00 114.89h-7.5M263.20 626.00v-7.5M263.20 51.00v7.5M413.90 626.00v-7.5M413.90 51.00v7.5M564.60 626.00v-7.5M564.60 51.00v7.5M715.30 626.00v-7.5M715.30 51.00v7.5" stroke="#6e6e6e" stroke-width="1.5" fill="none"/>
<g font-family="'Liberation Serif', 'DejaVu Serif', serif" font-size="33.5" fill="#2a2a2a"><text x="101.50" y="638.00" text-anchor="end">0</text><text x="101.50" y="574.11" text-anchor="end">1</text><text x="101.50" y="510.22" text-anchor="end">2</text><text x="101.50" y="446.33" text-anchor="end">3</text><text x="101.50" y="382.44" text-anchor="end">4</text><text x="101.50" y="318.56" text-anchor="end">5</text><text x="101.50" y="254.67" text-anchor="end">6</text><text x="101.50" y="190.78" text-anchor="end">7</text><text x="101.50" y="126.89" text-anchor="end">8</text><text x="101.50" y="63.00" text-anchor="end">9</text><text x="112.50" y="666.30" text-anchor="middle">0</text><text x="263.20" y="666.30" text-anchor="middle">1</text><text x="413.90" y="666.30" text-anchor="middle">2</text><text x="564.60" y="666.30" text-anchor="middle">3</text><text x="715.30" y="666.30" text-anchor="middle">4</text><text x="866.00" y="666.30" text-anchor="middle">5</text></g>
<text transform="matrix(0.43717 0 0 0.40855 438.33 707.70)" font-family="'Liberation Serif', 'DejaVu Serif', serif" font-style="italic" font-size="100" fill="#2a2a2a">t</text>
<text transform="matrix(0.32316 0 0 0.40695 467.38 708.14)" font-family="'Liberation Serif', 'DejaVu Serif', serif" font-size="100" fill="#2a2a2a">(</text>
<text transform="matrix(0.39014 0 0 0.35554 479.88 707.75)" font-family="'Liberation Serif', 'DejaVu Serif', serif" font-size="100" fill="#2a2a2a">ms</text>
<text transform="matrix(0.34263 0 0 0.40695 526.00 708.14)" font-family="'Liberation Serif', 'DejaVu Serif', serif" font-size="100" fill="#2a2a2a">)</text>
<rect x="1005.40" y="51.00" width="753.60" height="575.00" fill="none" stroke="#6e6e6e" stroke-width="1.5"/>
<path d="M1005.40 530.17h7.5M1759.00 530.17h-7.5M1005.40 434.33h7.5M1759.00 434.33h-7.5M1005.40 338.50h7.5M1759.00 338.50h-7.5M1005.40 242.67h7.5M1759.00 242.67h-7.5M1005.40 146.83h7.5M1759.00 146.83h-7.5M1156.12 626.00v-7.5M1156.12 51.00v7.5M1306.84 626.00v-7.5M1306.84 51.00v7.5M1457.56 626.00v-7.5M1457.56 51.00v7.5M1608.28 626.00v-7.5M1608.28 51.00v7.5" stroke="#6e6e6e" stroke-width="1.5" fill="none"/>
<g font-family="'Liberation Serif', 'DejaVu Serif', serif" font-size="33.5" fill="#2a2a2a"><text x="994.40" y="638.00" text-anchor="end">-0.3</text><text x="994.40" y="542.17" text-anchor="end">-0.2</text><text x="994.40" y="446.33" text-anchor="end">-0.1</text><text x="994.40" y="350.50" text-anchor="end">0</text><text x="994.40" y="254.67" text-anchor="end">0.1</text><text x="994.40" y="158.83" text-anchor="end">0.2</text><text x="994.40" y="63.00" text-anchor="end">0.3</text><text x="1005.40" y="666.30" text-anchor="middle">0</text><text x="1156.12" y="666.30" text-anchor="middle">1</text><text x="1306.84" y="666.30" text-anchor="middle">2</text><text x="1457.56" y="666.30" text-anchor="middle">3</text><text x="1608.28" y="666.30" text-anchor="middle">4</text><text x="1759.00" y="666.30" text-anchor="middle">5</text></g>
<text transform="matrix(0.43717 0 0 0.40855 1331.28 707.70)" font-family="'Liberation Serif', 'DejaVu Serif', serif" font-style="italic" font-size="100" fill="#2a2a2a">t</text>
<text transform="matrix(0.32316 0 0 0.40695 1360.33 708.14)" font-family="'Liberation Serif', 'DejaVu Serif', serif" font-size="100" fill="#2a2a2a">(</text>
<text transform="matrix(0.39014 0 0 0.35554 1372.83 707.75)" font-family="'Liberation Serif', 'DejaVu Serif', serif" font-size="100" fill="#2a2a2a">ms</text>
<text transform="matrix(0.34263 0 0 0.40695 1418.95 708.14)" font-family="'Liberation Serif', 'DejaVu Serif', serif" font-size="100" fill="#2a2a2a">)</text>
<rect x="112.50" y="742.40" width="753.50" height="574.90" fill="none" stroke="#6e6e6e" stroke-width="1.5"/>
<path d="M112.50 1221.48h7.5M866.00 1221.48h-7.5M112.50 1125.67h7.5M866.00 1125.67h-7.5M112.50 1029.85h7.5M866.00 1029.85h-7.5M112.50 934.03h7.5M866.00 934.03h-7.5M112.50 838.22h7.5M866.00 838.22h-7.5M263.20 1317.30v-7.5M263.20 742.40v7.5M413.90 1317.30v-7.5M413.90 742.40v7.5M564.60 1317.30v-7.5M564.60 742.40v7.5M715.30 1317.30v-7.5M715.30 742.40v7.5" stroke="#6e6e6e" stroke-width="1.5" fill="none"/>
<g font-family="'Liberation Serif', 'DejaVu Serif', serif" font-size="33.5" fill="#2a2a2a"><text x="101.50" y="1329.30" text-anchor="end">0</text><text x="101.50" y="1233.48" text-anchor="end">0.5</text><text x="101.50" y="1137.67" text-anchor="end">1</text><text x="101.50" y="1041.85" text-anchor="end">1.5</text><text x="101.50" y="946.03" text-anchor="end">2</text><text x="101.50" y="850.22" text-anchor="end">2.5</text><text x="101.50" y="754.40" text-anchor="end">3</text><text x="112.50" y="1357.60" text-anchor="middle">0</text><text x="263.20" y="1357.60" text-anchor="middle">1</text><text x="413.90" y="1357.60" text-anchor="middle">2</text><text x="564.60" y="1357.60" text-anchor="middle">3</text><text x="715.30" y="1357.60" text-anchor="middle">4</text><text x="866.00" y="1357.60" text-anchor="middle">5</text></g>
<text transform="matrix(0.43717 0 0 0.40855 438.33 1399.00)" font-family="'Liberation Serif', 'DejaVu Serif', serif" font-style="italic" font-size="100" fill="#2a2a2a">t</text>
<text transform="matrix(0.32316 0 0 0.40695 467.38 1399.44)" font-family="'Liberation Serif', 'DejaVu Serif', serif" font-size="100" fill="#2a2a2a">(</text>
<text transform="matrix(0.39014 0 0 0.35554 479.88 1399.05)" font-family="'Liberation Serif', 'DejaVu Serif', serif" font-size="100" fill="#2a2a2a">ms</text>
<text transform="matrix(0.34263 0 0 0.40695 526.00 1399.44)" font-family="'Liberation Serif', 'DejaVu Serif', serif" font-size="100" fill="#2a2a2a">)</text>
<rect x="1005.40" y="742.40" width="753.60" height="574.90" fill="none" stroke="#6e6e6e" stroke-width="1.5"/>
<path d="M1005.40 1221.48h7.5M1759.00 1221.48h-7.5M1005.40 1125.67h7.5M1759.00 1125.67h-7.5M1005.40 1029.85h7.5M1759.00 1029.85h-7.5M1005.40 934.03h7.5M1759.00 934.03h-7.5M1005.40 838.22h7.5M1759.00 838.22h-7.5M1156.12 1317.30v-7.5M1156.12 742.40v7.5M1306.84 1317.30v-7.5M1306.84 742.40v7.5M1457.56 1317.30v-7.5M1457.56 742.40v7.5M1608.28 1317.30v-7.5M1608.28 742.40v7.5" stroke="#6e6e6e" stroke-width="1.5" fill="none"/>
<g font-family="'Liberation Serif', 'DejaVu Serif', serif" font-size="33.5" fill="#2a2a2a"><text x="994.40" y="1329.30" text-anchor="end">-0.6</text><text x="994.40" y="1233.48" text-anchor="end">-0.4</text><text x="994.40" y="1137.67" text-anchor="end">-0.2</text><text x="994.40" y="1041.85" text-anchor="end">0</text><text x="994.40" y="946.03" text-anchor="end">0.2</text><text x="994.40" y="850.22" text-anchor="end">0.4</text><text x="994.40" y="754.40" text-anchor="end">0.6</text><text x="1005.40" y="1357.60" text-anchor="middle">0</text><text x="1156.12" y="1357.60" text-anchor="middle">1</text><text x="1306.84" y="1357.60" text-anchor="middle">2</text><text x="1457.56" y="1357.60" text-anchor="middle">3</text><text x="1608.28" y="1357.60" text-anchor="middle">4</text><text x="1759.00" y="1357.60" text-anchor="middle">5</text></g>
<text transform="matrix(0.43717 0 0 0.40855 1331.28 1399.00)" font-family="'Liberation Serif', 'DejaVu Serif', serif" font-style="italic" font-size="100" fill="#2a2a2a">t</text>
<text transform="matrix(0.32316 0 0 0.40695 1360.33 1399.44)" font-family="'Liberation Serif', 'DejaVu Serif', serif" font-size="100" fill="#2a2a2a">(</text>
<text transform="matrix(0.39014 0 0 0.35554 1372.83 1399.05)" font-family="'Liberation Serif', 'DejaVu Serif', serif" font-size="100" fill="#2a2a2a">ms</text>
<text transform="matrix(0.34263 0 0 0.40695 1418.95 1399.44)" font-family="'Liberation Serif', 'DejaVu Serif', serif" font-size="100" fill="#2a2a2a">)</text>
<rect x="112.50" y="1433.70" width="753.50" height="575.00" fill="none" stroke="#6e6e6e" stroke-width="1.5"/>
<path d="M112.50 1912.87h7.5M866.00 1912.87h-7.5M112.50 1817.03h7.5M866.00 1817.03h-7.5M112.50 1721.20h7.5M866.00 1721.20h-7.5M112.50 1625.37h7.5M866.00 1625.37h-7.5M112.50 1529.53h7.5M866.00 1529.53h-7.5M263.20 2008.70v-7.5M263.20 1433.70v7.5M413.90 2008.70v-7.5M413.90 1433.70v7.5M564.60 2008.70v-7.5M564.60 1433.70v7.5M715.30 2008.70v-7.5M715.30 1433.70v7.5" stroke="#6e6e6e" stroke-width="1.5" fill="none"/>
<g font-family="'Liberation Serif', 'DejaVu Serif', serif" font-size="33.5" fill="#2a2a2a"><text x="101.50" y="2020.70" text-anchor="end">-200</text><text x="101.50" y="1924.87" text-anchor="end">-100</text><text x="101.50" y="1829.03" text-anchor="end">0</text><text x="101.50" y="1733.20" text-anchor="end">100</text><text x="101.50" y="1637.37" text-anchor="end">200</text><text x="101.50" y="1541.53" text-anchor="end">300</text><text x="101.50" y="1445.70" text-anchor="end">400</text><text x="112.50" y="2049.00" text-anchor="middle">0</text><text x="263.20" y="2049.00" text-anchor="middle">1</text><text x="413.90" y="2049.00" text-anchor="middle">2</text><text x="564.60" y="2049.00" text-anchor="middle">3</text><text x="715.30" y="2049.00" text-anchor="middle">4</text><text x="866.00" y="2049.00" text-anchor="middle">5</text></g>
<text transform="matrix(0.43717 0 0 0.40855 438.33 2090.40)" font-family="'Liberation Serif', 'DejaVu Serif', serif" font-style="italic" font-size="100" fill="#2a2a2a">t</text>
<text transform="matrix(0.32316 0 0 0.40695 467.38 2090.84)" font-family="'Liberation Serif', 'DejaVu Serif', serif" font-size="100" fill="#2a2a2a">(</text>
<text transform="matrix(0.39014 0 0 0.35554 479.88 2090.45)" font-family="'Liberation Serif', 'DejaVu Serif', serif" font-size="100" fill="#2a2a2a">ms</text>
<text transform="matrix(0.34263 0 0 0.40695 526.00 2090.84)" font-family="'Liberation Serif', 'DejaVu Serif', serif" font-size="100" fill="#2a2a2a">)</text>
<rect x="1005.40" y="1433.70" width="753.60" height="575.00" fill="none" stroke="#6e6e6e" stroke-width="1.5"/>
<path d="M1005.40 1912.87h7.5M1759.00 1912.87h-7.5M1005.40 1817.03h7.5M1759.00 1817.03h-7.5M1005.40 1721.20h7.5M1759.00 1721.20h-7.5M1005.40 1625.37h7.5M1759.00 1625.37h-7.5M1005.40 1529.53h7.5M1759.00 1529.53h-7.5M1156.12 2008.70v-7.5M1156.12 1433.70v7.5M1306.84 2008.70v-7.5M1306.84 1433.70v7.5M1457.56 2008.70v-7.5M1457.56 1433.70v7.5M1608.28 2008.70v-7.5M1608.28 1433.70v7.5" stroke="#6e6e6e" stroke-width="1.5" fill="none"/>
<g font-family="'Liberation Serif', 'DejaVu Serif', serif" font-size="33.5" fill="#2a2a2a"><text x="994.40" y="2020.70" text-anchor="end">-300</text><text x="994.40" y="1924.87" text-anchor="end">-200</text><text x="994.40" y="1829.03" text-anchor="end">-100</text><text x="994.40" y="1733.20" text-anchor="end">0</text><text x="994.40" y="1637.37" text-anchor="end">100</text><text x="994.40" y="1541.53" text-anchor="end">200</text><text x="994.40" y="1445.70" text-anchor="end">300</text><text x="1005.40" y="2049.00" text-anchor="middle">0</text><text x="1156.12" y="2049.00" text-anchor="middle">1</text><text x="1306.84" y="2049.00" text-anchor="middle">2</text><text x="1457.56" y="2049.00" text-anchor="middle">3</text><text x="1608.28" y="2049.00" text-anchor="middle">4</text><text x="1759.00" y="2049.00" text-anchor="middle">5</text></g>
<text transform="matrix(0.43717 0 0 0.40855 1331.28 2090.40)" font-family="'Liberation Serif', 'DejaVu Serif', serif" font-style="italic" font-size="100" fill="#2a2a2a">t</text>
<text transform="matrix(0.32316 0 0 0.40695 1360.33 2090.84)" font-family="'Liberation Serif', 'DejaVu Serif', serif" font-size="100" fill="#2a2a2a">(</text>
<text transform="matrix(0.39014 0 0 0.35554 1372.83 2090.45)" font-family="'Liberation Serif', 'DejaVu Serif', serif" font-size="100" fill="#2a2a2a">ms</text>
<text transform="matrix(0.34263 0 0 0.40695 1418.95 2090.84)" font-family="'Liberation Serif', 'DejaVu Serif', serif" font-size="100" fill="#2a2a2a">)</text>
<text transform="matrix(0 -0.46353 0.39688 0 67.20 414.37)" font-family="'Liberation Serif', 'DejaVu Serif', serif" font-size="100" fill="#2a2a2a">Δ</text>
<text transform="matrix(0 -0.32586 0.33936 0 66.98 380.28)" font-family="'Liberation Serif', 'DejaVu Serif', serif" font-style="italic" font-size="100" fill="#2a2a2a">y</text>
<text transform="matrix(0 -0.38935 0.41467 0 67.87 350.41)" font-family="'Liberation Serif', 'DejaVu Serif', serif" font-size="100" fill="#2a2a2a">(</text>
<text transform="matrix(0 -0.39169 0.33532 0 67.20 338.02)" font-family="'Liberation Serif', 'DejaVu Serif', serif" font-size="100" fill="#2a2a2a">mm</text>
<text transform="matrix(0 -0.37378 0.41467 0 67.87 276.50)" font-family="'Liberation Serif', 'DejaVu Serif', serif" font-size="100" fill="#2a2a2a">)</text>
<text transform="matrix(0 -0.46353 0.39688 0 930.50 421.67)" font-family="'Liberation Serif', 'DejaVu Serif', serif" font-size="100" fill="#2a2a2a">Δ</text>
<text transform="matrix(0 -0.37133 0.34677 0 930.22 389.60)" font-family="'Liberation Serif', 'DejaVu Serif', serif" font-style="italic" font-size="100" fill="#2a2a2a">y</text>
<text transform="matrix(0 -0.62439 0.52797 0 938.37 376.08)" font-family="'Liberation Serif', 'DejaVu Serif', serif" font-size="100" fill="#2a2a2a">′</text>
<text transform="matrix(0 -0.25308 0.24430 0 939.60 372.61)" font-family="'Liberation Serif', 'DejaVu Serif', serif" font-style="italic" font-size="100" fill="#2a2a2a">g</text>
<text transform="matrix(0 -0.40882 0.40475 0 930.98 343.90)" font-family="'Liberation Serif', 'DejaVu Serif', serif" font-size="100" fill="#2a2a2a">(</text>
<text transform="matrix(0 -0.39301 0.33320 0 930.50 331.03)" font-family="'Liberation Serif', 'DejaVu Serif', serif" font-size="100" fill="#2a2a2a">mm</text>
<text transform="matrix(0 -0.38935 0.40475 0 930.98 269.85)" font-family="'Liberation Serif', 'DejaVu Serif', serif" font-size="100" fill="#2a2a2a">)</text>
<text transform="matrix(0 -0.35567 0.34560 0 41.66 1091.29)" font-family="'Liberation Serif', 'DejaVu Serif', serif" font-style="italic" font-size="100" fill="#2a2a2a">v</text>
<text transform="matrix(0 -0.35431 0.41026 0 42.77 1057.96)" font-family="'Liberation Serif', 'DejaVu Serif', serif" font-size="100" fill="#2a2a2a">(</text>
<text transform="matrix(0 -0.38720 0.34381 0 42.00 1045.81)" font-family="'Liberation Serif', 'DejaVu Serif', serif" font-size="100" fill="#2a2a2a">m</text>
<text transform="matrix(0 -0.47871 0.54265 0 50.07 1012.50)" font-family="'Liberation Serif', 'DejaVu Serif', serif" font-size="100" fill="#2a2a2a">/</text>
<text transform="matrix(0 -0.39742 0.33683 0 41.67 997.93)" font-family="'Liberation Serif', 'DejaVu Serif', serif" font-size="100" fill="#2a2a2a">s</text>
<text transform="matrix(0 -0.33484 0.41026 0 42.77 981.18)" font-family="'Liberation Serif', 'DejaVu Serif', serif" font-size="100" fill="#2a2a2a">)</text>
<text transform="matrix(0 -0.37659 0.34560 0 930.16 1098.41)" font-family="'Liberation Serif', 'DejaVu Serif', serif" font-style="italic" font-size="100" fill="#2a2a2a">v</text>
<text transform="matrix(0 -0.48286 0.44707 0 933.07 1081.28)" font-family="'Liberation Serif', 'DejaVu Serif', serif" font-size="100" fill="#2a2a2a">′</text>
<text transform="matrix(0 -0.24457 0.25015 0 939.47 1080.81)" font-family="'Liberation Serif', 'DejaVu Serif', serif" font-style="italic" font-size="100" fill="#2a2a2a">g</text>
<text transform="matrix(0 -0.35431 0.40475 0 930.98 1051.36)" font-family="'Liberation Serif', 'DejaVu Serif', serif" font-size="100" fill="#2a2a2a">(</text>
<text transform="matrix(0 -0.39260 0.34381 0 930.50 1039.12)" font-family="'Liberation Serif', 'DejaVu Serif', serif" font-size="100" fill="#2a2a2a">m</text>
<text transform="matrix(0 -0.51470 0.53517 0 938.58 1006.30)" font-family="'Liberation Serif', 'DejaVu Serif', serif" font-size="100" fill="#2a2a2a">/</text>
<text transform="matrix(0 -0.39742 0.33683 0 930.17 990.83)" font-family="'Liberation Serif', 'DejaVu Serif', serif" font-size="100" fill="#2a2a2a">s</text>
<text transform="matrix(0 -0.36989 0.40475 0 930.98 975.09)" font-family="'Liberation Serif', 'DejaVu Serif', serif" font-size="100" fill="#2a2a2a">)</text>
<text transform="matrix(0 -0.38833 0.34722 0 33.54 1760.16)" font-family="'Liberation Serif', 'DejaVu Serif', serif" font-style="italic" font-size="100" fill="#2a2a2a">a</text>
<text transform="matrix(0 -0.31148 0.40364 0 34.11 1726.37)" font-family="'Liberation Serif', 'DejaVu Serif', serif" font-size="100" fill="#2a2a2a">(</text>
<text transform="matrix(0 -0.37444 0.33470 0 34.38 1714.81)" font-family="'Liberation Serif', 'DejaVu Serif', serif" font-size="100" fill="#2a2a2a">g</text>
<text transform="matrix(0 -0.32706 0.40364 0 34.11 1694.85)" font-family="'Liberation Serif', 'DejaVu Serif', serif" font-size="100" fill="#2a2a2a">)</text>
<text transform="matrix(0 -0.35366 0.35762 0 924.03 1766.15)" font-family="'Liberation Serif', 'DejaVu Serif', serif" font-style="italic" font-size="100" fill="#2a2a2a">a</text>
<text transform="matrix(0 -0.44124 0.40023 0 925.21 1749.68)" font-family="'Liberation Serif', 'DejaVu Serif', serif" font-size="100" fill="#2a2a2a">′</text>
<text transform="matrix(0 -0.21054 0.22967 0 932.91 1746.81)" font-family="'Liberation Serif', 'DejaVu Serif', serif" font-style="italic" font-size="100" fill="#2a2a2a">g</text>
<text transform="matrix(0 -0.31148 0.37166 0 925.29 1718.37)" font-family="'Liberation Serif', 'DejaVu Serif', serif" font-size="100" fill="#2a2a2a">(</text>
<text transform="matrix(0 -0.37444 0.33608 0 924.45 1707.21)" font-family="'Liberation Serif', 'DejaVu Serif', serif" font-size="100" fill="#2a2a2a">g</text>
<text transform="matrix(0 -0.31148 0.37166 0 925.29 1687.10)" font-family="'Liberation Serif', 'DejaVu Serif', serif" font-size="100" fill="#2a2a2a">)</text>
<text transform="matrix(0.50583 0 0 0.43020 146.17 540.20)" font-family="'Liberation Serif', 'DejaVu Serif', serif" font-size="100" fill="#000">Δ</text>
<text transform="matrix(0.34860 0 0 0.38678 183.81 540.25)" font-family="'Liberation Serif', 'DejaVu Serif', serif" font-style="italic" font-size="100" fill="#000">y</text>
<text transform="matrix(0.34037 0 0 0.27653 200.78 546.53)" font-family="'Liberation Serif', 'DejaVu Serif', serif" font-style="italic" font-size="100" fill="#000">s</text>
<text transform="matrix(0.50231 0 0 0.43172 411.19 602.20)" font-family="'Liberation Serif', 'DejaVu Serif', serif" font-size="100" fill="#000">Δ</text>
<text transform="matrix(0.35807 0 0 0.39122 448.39 602.46)" font-family="'Liberation Serif', 'DejaVu Serif', serif" font-style="italic" font-size="100" fill="#000">y</text>
<text transform="matrix(0.29774 0 0 0.28379 465.29 608.56)" font-family="'Liberation Serif', 'DejaVu Serif', serif" font-style="italic" font-size="100" fill="#000">g</text>
<text transform="matrix(0.40914 0 0 0.39680 702.44 807.21)" font-family="'Liberation Serif', 'DejaVu Serif', serif" font-style="italic" font-size="100" fill="#000">v</text>
<text transform="matrix(0.34037 0 0 0.25366 722.48 813.25)" font-family="'Liberation Serif', 'DejaVu Serif', serif" font-style="italic" font-size="100" fill="#000">s</text>
<text transform="matrix(0.42076 0 0 0.38613 630.72 879.82)" font-family="'Liberation Serif', 'DejaVu Serif', serif" font-style="italic" font-size="100" fill="#000">v</text>
<text transform="matrix(0.29136 0 0 0.27063 651.19 885.74)" font-family="'Liberation Serif', 'DejaVu Serif', serif" font-style="italic" font-size="100" fill="#000">g</text>
<text transform="matrix(0.39296 0 0 0.38465 324.83 1574.61)" font-family="'Liberation Serif', 'DejaVu Serif', serif" font-style="italic" font-size="100" fill="#000">a</text>
<text transform="matrix(0.28923 0 0 0.26331 347.49 1580.39)" font-family="'Liberation Serif', 'DejaVu Serif', serif" font-style="italic" font-size="100" fill="#000">g</text>
<text transform="matrix(0.39296 0 0 0.37425 406.93 1726.82)" font-family="'Liberation Serif', 'DejaVu Serif', serif" font-style="italic" font-size="100" fill="#000">a</text>
<text transform="matrix(0.31730 0 0 0.24950 429.81 1732.96)" font-family="'Liberation Serif', 'DejaVu Serif', serif" font-style="italic" font-size="100" fill="#000">s</text>
<line x1="199.7" y1="551.2" x2="258.0" y2="583.0" stroke="#111" stroke-width="1.6"/>
<path d="M264.5,586.6 L250.0,584.9 L256.0,574.2 Z" fill="#111"/>
<line x1="412.0" y1="588.2" x2="325.0" y2="573.0" stroke="#111" stroke-width="1.6"/>
<path d="M317.2,571.5 L331.6,568.2 L329.2,580.2 Z" fill="#111"/>
<text x="14.2" y="35.9" font-family="'Liberation Sans', Arial, sans-serif" font-weight="bold" font-size="33" fill="#000">A</text>
<text x="901.2" y="35.8" font-family="'Liberation Sans', Arial, sans-serif" font-weight="bold" font-size="33" fill="#000">B</text>
<text x="13.6" y="718.3" font-family="'Liberation Sans', Arial, sans-serif" font-weight="bold" font-size="33" fill="#000">C</text>
<text x="901.0" y="718.5" font-family="'Liberation Sans', Arial, sans-serif" font-weight="bold" font-size="33" fill="#000">D</text>
<text x="13.7" y="1405.0" font-family="'Liberation Sans', Arial, sans-serif" font-weight="bold" font-size="33" fill="#000">E</text>
<text x="901.0" y="1405.3" font-family="'Liberation Sans', Arial, sans-serif" font-weight="bold" font-size="33" fill="#000">F</text>
</svg>
</body></html>
